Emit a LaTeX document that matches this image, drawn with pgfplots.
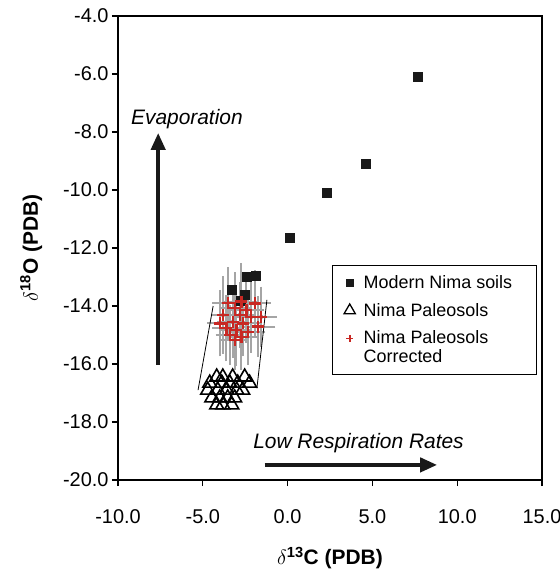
\documentclass[border=0pt]{standalone}
\usepackage{pgfplots}
\pgfplotsset{compat=1.18}
\usepackage{pgfplotstable}
\usepackage{fontspec}
\setmainfont{Liberation Sans}
\usetikzlibrary{arrows.meta,calc}
\definecolor{errgray}{RGB}{165,165,165}
\definecolor{redc}{RGB}{200,40,35}
\definecolor{sqc}{RGB}{25,25,25}
\pgfplotsset{mylegimg/.style={legend image code/.code={\path[draw=none,fill=none] (0bp,-3bp) rectangle (24bp,3bp); \draw[##1] plot coordinates {(12bp,#1)};}}}

\pgfplotstableread{
x y
7.7 -6.1
4.6 -9.1
2.3 -10.1
0.1 -11.65
-3.28 -13.45
-2.43 -13.0
-1.88 -12.97
-2.53 -13.6
-2.76 -13.82
}\modern

\pgfplotstableread{
x y
-4.18 -16.45
-3.82 -16.45
-3.24 -16.45
-2.53 -16.45
-4.59 -16.66
-3.88 -16.66
-3.41 -16.66
-2.94 -16.66
-2.24 -16.66
-4.71 -16.9
-4.12 -16.9
-3.59 -16.9
-3.00 -16.9
-2.65 -16.9
-4.47 -17.17
-4.00 -17.17
-3.53 -17.17
-3.12 -17.17
-4.18 -17.41
-3.82 -17.41
-3.29 -17.41
}\paleo

\pgfplotstableread{
x y ex ey
-3.51 -13.89 0.7 1.1
-2.72 -13.85 0.8 1.2
-1.94 -13.91 0.7 1.0
-3.12 -14.08 0.7 1.1
-2.43 -14.14 0.8 1.0
-3.81 -14.31 0.5 1.2
-2.82 -14.31 0.7 1.0
-2.14 -14.37 0.7 1.1
-1.55 -14.37 0.7 0.9
-4.00 -14.60 0.5 1.0
-3.22 -14.54 0.7 1.1
-2.63 -14.60 0.8 1.0
-1.75 -14.71 0.8 0.9
-3.61 -14.77 0.6 1.0
-3.02 -14.83 0.7 1.1
-2.34 -14.89 0.8 1.0
-3.41 -15.00 0.6 0.9
-2.72 -15.06 0.7 1.0
-3.12 -15.17 0.6 0.9
}\corr

\begin{document}
\begin{tikzpicture}
\begin{axis}[
  scale only axis,
  width=424bp, height=464bp,
  xmin=-10, xmax=15, ymin=-20, ymax=-4,
  xtick={-10,-5,0,5,10,15},
  ytick={-20,-18,...,-4},
  tick pos=left, tick align=outside,
  major tick length=6bp,
  axis line style={line width=1.2bp},
  every tick/.style={black, line width=1.2bp},
  /pgf/number format/.cd, fixed, fixed zerofill, precision=1, assume math mode=true,
  /pgfplots/.cd,
  ticklabel style={font=\fontsize{20}{24}\selectfont},
  xticklabel style={yshift=-20bp},
  xlabel={$\delta$\textsuperscript{13}C (PDB)},
  ylabel={$\delta$\textsuperscript{18}O (PDB)},
  every axis x label/.style={at={(axis description cs:0.5,-0.168)}, anchor=center, font=\fontsize{21}{25}\selectfont\bfseries},
  every axis y label/.style={at={(axis description cs:-0.205,0.5)}, rotate=90, anchor=center, font=\fontsize{21}{25}\selectfont\bfseries},
  clip=false,
  legend style={at={(0.505,0.463)}, anchor=north west, draw=black, line width=1.2bp,
    font=\fontsize{18}{19}\selectfont, inner xsep=5bp, inner ysep=8bp, row sep=9bp,
    cells={anchor=west, align=left}},
]
% gray error bars
\addplot[only marks, mark=none, errgray, forget plot,
  error bars/.cd, x dir=both, x explicit, y dir=both, y explicit,
  error bar style={line width=2bp, errgray},
  error mark options={line width=2bp, mark size=4bp, errgray}]
  table[x=x, y=y, x error=ex, y error=ey] {\corr};
% thin lines
\addplot[black, line width=0.8bp, forget plot] coordinates {(-5.28,-16.9) (-4.39,-14.0)};
\addplot[black, line width=0.8bp, forget plot] coordinates {(-1.81,-16.84) (-1.22,-13.79)};
% modern soils
\addplot[only marks, mark=square*, mark size=4.5bp, sqc, forget plot] table[x=x,y=y] {\modern};
% paleosols
\addplot[only marks, mark=triangle, mark size=8bp, black, line width=1.6bp, forget plot] table[x=x,y=y] {\paleo};
% corrected
\addplot[only marks, mark=+, mark size=6bp, redc, mark options={line width=2.3bp}, forget plot] table[x=x,y=y] {\corr};

\addlegendimage{mylegimg=0bp, only marks, mark=square*, mark size=3.5bp, sqc}
\addlegendentry{\makebox[166bp][l]{Modern Nima soils}}
\addlegendimage{mylegimg=0bp, only marks, mark=triangle, mark size=6.5bp, black, line width=1.3bp}
\addlegendentry{Nima Paleosols}
\addlegendimage{mylegimg=9bp, only marks, mark=+, mark size=3.5bp, redc, mark options={line width=1.8bp}}
\addlegendentry{Nima Paleosols\\Corrected}

% arrows
\draw[line width=4bp, -{Triangle[length=17bp,width=14bp]}, black!90] (axis cs:-7.63,-16.03) -- (axis cs:-7.63,-8.03);
\draw[line width=4bp, -{Triangle[length=17bp,width=14bp]}, black!90] (axis cs:-1.35,-19.48) -- (axis cs:8.82,-19.48);
\node[anchor=west, font=\fontsize{21}{25}\selectfont\itshape, inner sep=0pt] at (axis cs:-9.24,-7.55) {Evaporation};
\node[anchor=center, font=\fontsize{21}{25}\selectfont\itshape, inner sep=0pt] at (axis cs:4.18,-18.74) {Low Respiration Rates};
\end{axis}
\pgfresetboundingbox
\path ($(current axis.south west)+(-118bp,-90bp)$) rectangle ($(current axis.north east)+(18bp,16bp)$);
\end{tikzpicture}
\end{document}
